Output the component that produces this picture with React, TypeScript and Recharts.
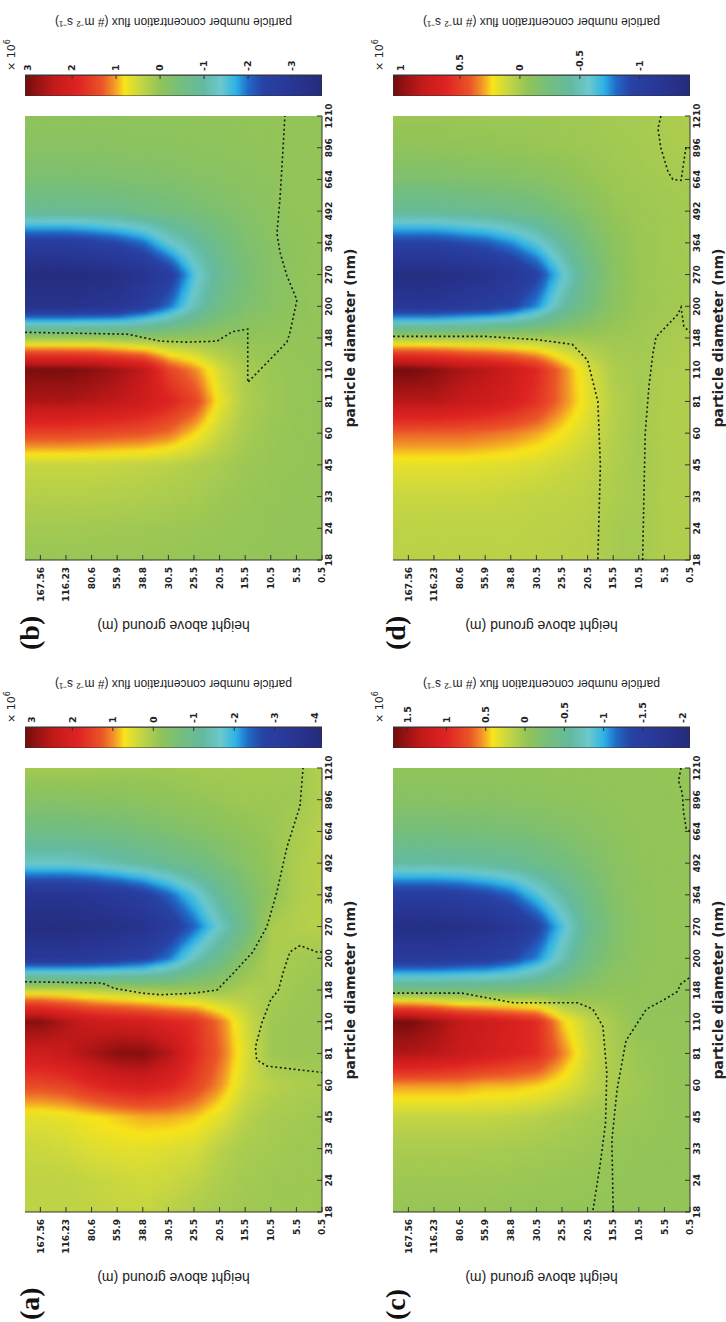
import React from 'react';
import { ComposedChart, Scatter, XAxis, YAxis } from 'recharts';

// axis categories (equally spaced in the figure)
const DIAMETERS = ['18', '24', '33', '45', '60', '81', '110', '148', '200', '270', '364', '492', '664', '896', '1210'];
const HEIGHTS = ['0.5', '5.5', '10.5', '15.5', '20.5', '25.5', '30.5', '38.8', '55.9', '80.6', '116.23', '167.56'];

// flux in 10^6 # m-2 s-1; rows go from 167.56 m down to 0.5 m, columns follow DIAMETERS
const FLUX_A = [
  [0.25, 0.25, 0.35, 0.55, 1.4, 2.2, 3.0, 0.3, -3.3, -4.0, -3.5, -1.6, -0.8, -0.35, 0.0],
  [0.25, 0.25, 0.4, 0.6, 1.5, 2.4, 2.6, 0.3, -3.3, -4.0, -3.5, -1.6, -0.8, -0.35, 0.0],
  [0.25, 0.3, 0.5, 0.7, 1.8, 2.7, 2.3, 0.2, -3.2, -3.9, -3.4, -1.5, -0.75, -0.3, 0.0],
  [0.3, 0.35, 0.55, 0.8, 2.0, 3.0, 2.2, 0.1, -3.0, -3.8, -3.2, -1.35, -0.7, -0.3, -0.05],
  [0.3, 0.4, 0.55, 0.9, 2.1, 3.0, 2.1, 0.0, -2.8, -3.6, -2.9, -1.2, -0.6, -0.25, -0.05],
  [0.2, 0.35, 0.5, 0.9, 1.9, 2.6, 1.9, -0.1, -2.3, -3.1, -2.4, -1.0, -0.5, -0.2, -0.05],
  [0.1, 0.25, 0.45, 0.8, 1.5, 1.8, 1.7, -0.1, -1.5, -2.4, -1.8, -0.8, -0.4, -0.15, 0.0],
  [0.0, 0.1, 0.2, 0.55, 1.0, 1.2, 1.1, -0.1, -0.9, -1.6, -1.1, -0.6, -0.3, -0.1, 0.0],
  [-0.05, 0.0, 0.05, 0.2, 0.4, 0.5, 0.4, 0.1, -0.3, -0.8, -0.6, -0.35, -0.2, -0.05, 0.0],
  [-0.05, -0.05, 0.0, 0.05, 0.2, -0.05, -0.05, 0.05, 0.1, 0.05, -0.2, -0.15, -0.1, -0.05, 0.0],
  [-0.05, -0.05, -0.05, 0.0, 0.1, -0.1, -0.1, -0.05, 0.0, 0.15, 0.1, 0.1, 0.05, -0.05, -0.02],
  [-0.05, -0.05, -0.05, -0.05, 0.05, -0.1, -0.1, -0.1, -0.05, 0.2, 0.2, 0.2, 0.2, 0.15, 0.15],
];
const FLUX_B = [
  [0.05, 0.15, 0.3, 0.45, 1.5, 2.6, 3.0, 0.1, -3.2, -3.6, -2.6, -0.8, -0.35, -0.15, -0.05],
  [0.05, 0.15, 0.3, 0.45, 1.5, 2.6, 3.0, 0.1, -3.2, -3.6, -2.6, -0.8, -0.35, -0.15, -0.05],
  [0.05, 0.14, 0.3, 0.45, 1.45, 2.5, 2.9, 0.1, -3.1, -3.5, -2.5, -0.75, -0.33, -0.14, -0.05],
  [0.05, 0.13, 0.28, 0.42, 1.4, 2.4, 2.7, 0.05, -3.0, -3.4, -2.3, -0.7, -0.3, -0.13, -0.04],
  [0.05, 0.12, 0.26, 0.4, 1.35, 2.2, 2.4, 0, -2.6, -3.1, -2.0, -0.6, -0.28, -0.12, -0.04],
  [0.04, 0.1, 0.22, 0.35, 1.2, 1.9, 1.5, 0, -2.0, -2.6, -1.4, -0.5, -0.25, -0.1, -0.03],
  [0.03, 0.08, 0.18, 0.28, 0.85, 1.5, 1.1, 0, -1.2, -1.5, -1.0, -0.4, -0.2, -0.08, -0.03],
  [0.02, 0.05, 0.1, 0.2, 0.45, 0.7, 0.55, 0, -0.6, -0.8, -0.6, -0.3, -0.15, -0.06, -0.02],
  [0.01, 0.03, 0.05, 0.1, 0.18, 0.25, 0.2, 0, -0.3, -0.4, -0.3, -0.2, -0.1, -0.04, -0.01],
  [0, 0.01, 0.02, 0.05, 0.07, 0.1, 0.08, 0, -0.15, -0.2, -0.15, -0.1, -0.05, -0.02, 0],
  [0, 0, 0, 0.02, 0.03, 0.03, 0.03, 0, -0.05, -0.05, -0.05, 0, 0, 0, 0],
  [0, 0, 0, 0, 0, 0, 0, 0, 0, 0, 0, 0, 0, 0, 0],
];
const FLUX_C = [
  [-0.02, 0.02, 0.08, 0.2, 0.55, 1.4, 1.65, -0.3, -1.6, -1.95, -1.5, -0.6, -0.3, -0.13, -0.05],
  [-0.02, 0.02, 0.08, 0.2, 0.55, 1.35, 1.5, -0.3, -1.6, -1.95, -1.5, -0.6, -0.3, -0.13, -0.05],
  [-0.02, 0.02, 0.08, 0.2, 0.55, 1.25, 1.3, -0.3, -1.55, -1.9, -1.45, -0.58, -0.28, -0.12, -0.05],
  [-0.02, 0.02, 0.07, 0.2, 0.5, 1.15, 1.2, -0.3, -1.5, -1.85, -1.35, -0.55, -0.27, -0.12, -0.05],
  [-0.03, 0.01, 0.06, 0.18, 0.5, 1.05, 1.1, -0.3, -1.35, -1.7, -1.2, -0.5, -0.25, -0.11, -0.05],
  [-0.03, 0, 0.05, 0.15, 0.45, 0.95, 0.95, -0.25, -1.1, -1.4, -0.9, -0.42, -0.22, -0.1, -0.05],
  [-0.03, -0.01, 0.03, 0.1, 0.35, 0.6, 0.45, -0.2, -0.7, -0.9, -0.6, -0.32, -0.18, -0.08, -0.04],
  [-0.04, -0.02, 0.01, 0.06, 0.2, 0.25, 0.2, -0.1, -0.35, -0.45, -0.35, -0.22, -0.13, -0.07, -0.04],
  [-0.04, -0.03, -0.02, 0.02, 0.08, 0.08, 0.05, -0.05, -0.15, -0.2, -0.15, -0.12, -0.08, -0.05, -0.04],
  [-0.04, -0.04, -0.03, 0, 0.02, 0, -0.05, -0.05, -0.07, -0.08, -0.07, -0.06, -0.05, -0.04, -0.04],
  [-0.04, -0.04, -0.04, -0.03, -0.03, -0.03, -0.05, -0.05, -0.04, -0.04, -0.04, -0.04, -0.04, -0.04, -0.03],
  [-0.04, -0.04, -0.04, -0.04, -0.04, -0.04, -0.05, -0.05, -0.04, -0.04, -0.04, -0.04, -0.03, -0.03, -0.03],
];
const FLUX_D = [
  [0.06, 0.07, 0.1, 0.18, 0.4, 0.85, 1.05, 0, -1.15, -1.35, -0.95, -0.38, -0.18, -0.08, -0.04],
  [0.06, 0.07, 0.1, 0.18, 0.4, 0.85, 1.0, 0, -1.15, -1.35, -0.95, -0.38, -0.18, -0.08, -0.04],
  [0.06, 0.07, 0.1, 0.18, 0.4, 0.8, 0.9, 0, -1.1, -1.3, -0.9, -0.36, -0.17, -0.07, -0.04],
  [0.06, 0.07, 0.1, 0.17, 0.38, 0.75, 0.85, 0, -1.05, -1.25, -0.85, -0.34, -0.16, -0.07, -0.03],
  [0.06, 0.07, 0.09, 0.16, 0.35, 0.68, 0.75, 0, -0.95, -1.15, -0.75, -0.31, -0.15, -0.06, -0.03],
  [0.06, 0.06, 0.08, 0.14, 0.3, 0.55, 0.6, 0, -0.75, -0.95, -0.6, -0.27, -0.13, -0.05, -0.03],
  [0.05, 0.06, 0.07, 0.11, 0.22, 0.35, 0.35, -0.02, -0.45, -0.6, -0.4, -0.2, -0.1, -0.04, -0.02],
  [0.05, 0.05, 0.06, 0.08, 0.13, 0.18, 0.15, -0.03, -0.25, -0.3, -0.22, -0.13, -0.06, -0.03, -0.02],
  [0, 0, 0.02, 0.03, 0.04, 0.05, 0.02, -0.03, -0.1, -0.12, -0.1, -0.06, -0.03, -0.02, -0.01],
  [-0.01, -0.01, -0.01, -0.01, -0.01, -0.01, -0.01, -0.02, -0.04, -0.04, -0.04, -0.03, -0.02, -0.01, -0.005],
  [0.03, 0.03, 0.03, 0.03, 0.03, 0.03, 0.02, 0, -0.02, -0.02, -0.02, -0.02, -0.01, 0.01, 0.01],
  [0.03, 0.03, 0.03, 0.03, 0.03, 0.03, 0.03, 0.02, -0.01, -0.01, -0.01, -0.01, -0.01, 0.02, 0.02],
];

// colour limits and colourbar ticks (x 10^6)
const RANGE_A = [-4.17, 3.17];
const RANGE_B = [-3.68, 3.07];
const RANGE_C = [-2.1, 1.68];
const RANGE_D = [-1.42, 1.06];
const CBAR_A = [3, 2, 1, 0, -1, -2, -3, -4];
const CBAR_B = [3, 2, 1, 0, -1, -2, -3];
const CBAR_C = [1.5, 1, 0.5, 0, -0.5, -1, -1.5, -2];
const CBAR_D = [1, 0.5, 0, -0.5, -1];

// zero-flux contours as [diameter index, height index]
const ZERO_A1 = [[7.26, 11.6], [7.22, 8.6], [7.05, 8.1], [6.9, 7.0], [6.85, 6.3], [6.9, 5.0], [7.0, 4.1], [7.5, 3.5], [8.2, 2.7], [9.0, 2.15], [10.1, 1.76], [11.5, 1.37], [12.8, 0.86], [14, 0.74]];
const ZERO_A2 = [[8.2, 0], [8.2, 0.2], [8.4, 0.86], [8.2, 1.25], [7.6, 1.5], [7.0, 1.7], [6.7, 2.0], [5.96, 2.35], [5.2, 2.6], [4.8, 2.55], [4.6, 2.15], [4.48, 0.86], [4.4, 0]];
const ZERO_B1 = [[7.18, 11.6], [7.12, 7.6], [6.9, 6.3], [6.87, 5.3], [6.9, 4.1], [7.2, 3.5], [7.28, 2.9], [5.6, 2.9], [6.87, 1.37], [7.18, 1.25], [8.2, 0.98], [8.96, 1.37], [9.7, 1.64], [10.3, 1.76], [11.4, 1.64], [13.0, 1.52], [14, 1.45]];
const ZERO_C1 = [[6.9, 11.6], [6.9, 8.9], [6.6, 6.9], [6.6, 4.4], [6.4, 3.8], [5.85, 3.4], [4.4, 3.25], [2.8, 3.3], [1.55, 3.5], [0, 3.8]];
const ZERO_C2 = [[0, 3.0], [2.27, 3.05], [3.85, 2.85], [5.4, 2.5], [6.4, 1.7], [6.7, 1.0], [6.95, 0.5], [7.2, 0.35], [7.4, 0]];
const ZERO_C3 = [[14, 0.35], [13.6, 0.45], [13.2, 0.3], [12.6, 0.25], [12.1, 0.15], [12.0, 0]];
const ZERO_D1 = [[7.05, 11.6], [7.05, 8], [6.95, 6], [6.8, 4.6], [6.3, 4.0], [5, 3.6], [3, 3.5], [1.5, 3.55], [0, 3.6]];
const ZERO_D2 = [[0, 1.85], [2, 1.8], [4, 1.75], [5.5, 1.6], [6.5, 1.45], [7.03, 1.33], [7.75, 0.47], [7.97, 0.35], [7.37, 0.24], [7.18, 0]];
const ZERO_D3 = [[14, 1.14], [13.6, 1.25], [13, 1.14], [12.25, 0.86], [12, 0.67], [11.97, 0.35], [12.4, 0.27], [13, 0.16], [13, 0]];

const CBAR_TITLE = 'particle number concentration flux (# m\u207B\u00B2 s\u207B\u00B9)';

// jet-like colour ramp sampled from the printed colourbar (0 = min, 1 = max)
const CMAP: [number, number[]][] = [
  [0.0, [36, 44, 122]],
  [0.1, [40, 54, 148]],
  [0.2, [40, 66, 165]],
  [0.25, [32, 108, 200]],
  [0.29, [45, 178, 230]],
  [0.34, [108, 200, 205]],
  [0.4, [100, 186, 160]],
  [0.48, [118, 190, 122]],
  [0.545, [146, 196, 88]],
  [0.59, [180, 207, 76]],
  [0.63, [215, 220, 55]],
  [0.665, [248, 228, 25]],
  [0.7, [242, 150, 40]],
  [0.74, [235, 85, 40]],
  [0.82, [222, 36, 34]],
  [0.9, [196, 26, 26]],
  [0.96, [150, 18, 18]],
  [1.0, [112, 12, 12]],
];

const PLOT_W = 444;
const PLOT_H = 297;
const CBAR_W = 21;
const N_D = DIAMETERS.length;
const N_H = HEIGHTS.length;
const D_MAX = N_D - 1;
const H_MAX = 11.6;
const D_TICKS = DIAMETERS.map((_, i) => i);
const H_TICKS = HEIGHTS.map((_, i) => i);
const FRAME = '#333';
const TICK_FONT = { fontSize: 9, fontWeight: 'bold', fill: '#222', fontFamily: '"DejaVu Sans", sans-serif' };

const rgb = (c: number[]) => `rgb(${c[0]},${c[1]},${c[2]})`;

function fluxColor(v: number, range: number[]) {
  const f = Math.max(0, Math.min(1, (v - range[0]) / (range[1] - range[0])));
  for (let i = 1; i < CMAP.length; i++) {
    if (f <= CMAP[i][0]) {
      const [f0, c0] = CMAP[i - 1];
      const [f1, c1] = CMAP[i];
      const t = (f - f0) / (f1 - f0);
      return rgb(c0.map((x, k) => Math.round(x + (c1[k] - x) * t)));
    }
  }
  return rgb(CMAP[CMAP.length - 1][1]);
}

// value between grid nodes, linear in both directions (what contourf shows)
function fieldAt(rows: number[][], xi: number, yi: number) {
  const x = Math.max(0, Math.min(D_MAX, xi));
  const y = Math.max(0, Math.min(N_H - 1, yi));
  const i0 = Math.min(N_D - 2, Math.floor(x));
  const j0 = Math.min(N_H - 2, Math.floor(y));
  const tx = x - i0;
  const ty = y - j0;
  const g = (i: number, j: number) => rows[N_H - 1 - j][i];
  return (
    g(i0, j0) * (1 - tx) * (1 - ty) +
    g(i0 + 1, j0) * tx * (1 - ty) +
    g(i0, j0 + 1) * (1 - tx) * ty +
    g(i0 + 1, j0 + 1) * tx * ty
  );
}

const toCells = (rows: number[][]) =>
  rows.flatMap((row, r) => row.map((v, c) => ({ d: c, h: N_H - 1 - r, v })));

const toPoints = (line: number[][]) => line.map(([d, h]) => ({ d, h }));

function Panel({ tag, x, y, rows, range, cbarTicks, zeroLines, titleOffset }: any) {
  const cells = toCells(rows);
  const kx = PLOT_W / D_MAX;
  const ky = PLOT_H / H_MAX;

  const cellShape = (p: any) => {
    const { cx, cy, payload } = p;
    const { d, h } = payload;
    const xa = Math.max(0, d - 0.5);
    const xb = Math.min(D_MAX, d + 0.5);
    const ya = Math.max(0, h - 0.5);
    const yb = h === N_H - 1 ? H_MAX : h + 0.5;
    const nx = Math.max(1, Math.round((xb - xa) * 9));
    const ny = Math.max(1, Math.round((yb - ya) * 8));
    const parts = [];
    for (let a = 0; a < nx; a++) {
      for (let b = 0; b < ny; b++) {
        const x0 = xa + ((xb - xa) * a) / nx;
        const x1 = xa + ((xb - xa) * (a + 1)) / nx;
        const y0 = ya + ((yb - ya) * b) / ny;
        const y1 = ya + ((yb - ya) * (b + 1)) / ny;
        const v = fieldAt(rows, (x0 + x1) / 2, (y0 + y1) / 2);
        const px0 = cx + (x0 - d) * kx;
        const px1 = cx + (x1 - d) * kx;
        const pyTop = cy - (y1 - h) * ky;
        const pyBot = cy - (y0 - h) * ky;
        parts.push(
          <rect key={a * 50 + b} x={px0} y={pyTop} width={px1 - px0 + 0.7} height={pyBot - pyTop + 0.7} fill={fluxColor(v, range)} />
        );
      }
    }
    return <g>{parts}</g>;
  };

  const cbarShape = (p: any) => (
    <rect
      x={p.cx - CBAR_W / 2}
      y={p.cy - PLOT_H / 2}
      width={CBAR_W}
      height={PLOT_H}
      fill="url(#cbarGrad)"
      stroke={FRAME}
      strokeWidth={1}
    />
  );

  const plotRight = x + 110 + PLOT_W;
  const mid = (range[0] + range[1]) / 2;

  return (
    <>
      <div style={{ position: 'absolute', left: x, top: y }}>
        <ComposedChart width={576} height={362} margin={{ top: 25, right: 22, bottom: 0, left: 44 }}>
          <XAxis
            dataKey="d"
            type="number"
            domain={[0, D_MAX]}
            ticks={D_TICKS}
            interval={0}
            allowDataOverflow
            tickFormatter={(v: number) => DIAMETERS[v]}
            height={40}
            tickSize={-5}
            tickMargin={9}
            tick={TICK_FONT}
            stroke={FRAME}
            label={{
              value: 'particle diameter (nm)',
              position: 'insideBottom',
              offset: 7,
              style: { fontSize: 14, fontWeight: 'bold', fill: '#222', fontFamily: '"DejaVu Sans", sans-serif' },
            }}
          />
          <XAxis xAxisId="top" orientation="top" type="number" domain={[0, D_MAX]} ticks={D_TICKS} interval={0} allowDataOverflow height={0} tickSize={-5} tick={false} stroke={FRAME} />
          <YAxis
            dataKey="h"
            type="number"
            domain={[0, H_MAX]}
            ticks={H_TICKS}
            interval={0}
            allowDataOverflow
            tickFormatter={(v: number) => HEIGHTS[v]}
            width={66}
            tickSize={-5}
            tickMargin={12}
            tick={TICK_FONT}
            stroke={FRAME}
            label={{
              value: 'height above ground (m)',
              angle: -90,
              position: 'insideLeft',
              offset: 0,
              style: { textAnchor: 'middle', fontSize: 14, fill: '#222', fontFamily: '"Liberation Sans", Arial, sans-serif' },
            }}
          />
          <YAxis yAxisId="right" orientation="right" type="number" domain={[0, H_MAX]} ticks={H_TICKS} interval={0} allowDataOverflow width={0} tickSize={-5} tick={false} stroke={FRAME} />
          <Scatter data={cells} shape={cellShape} isAnimationActive={false} className="heatmap" zIndex={-1} />
          {zeroLines.map((ln: number[][], i: number) => (
            <Scatter
              key={i}
              data={toPoints(ln)}
              shape={() => <g />}
              line={{ stroke: '#1a1a1a', strokeWidth: 1.6, strokeDasharray: '2 2.6', fill: 'none' }}
              lineType="joint"
              isAnimationActive={false}
            />
          ))}
        </ComposedChart>
      </div>

      <div style={{ position: 'absolute', left: plotRight + 20, top: y }}>
        <ComposedChart width={100} height={362} margin={{ top: 25, right: 0, bottom: 40, left: 0 }}>
          <XAxis dataKey="x" type="number" domain={[0, 1]} hide allowDataOverflow />
          <YAxis
            dataKey="y"
            type="number"
            orientation="right"
            domain={range}
            ticks={cbarTicks}
            interval={0}
            allowDataOverflow
            width={79}
            tickSize={-4}
            tickMargin={8}
            stroke={FRAME}
            tick={{ ...TICK_FONT, fontSize: 9.5 }}
            tickFormatter={(v: number) => String(v)}
            label={{
              value: CBAR_TITLE,
              angle: -90,
              position: 'insideRight',
              offset: titleOffset,
              style: { textAnchor: 'middle', fontSize: 12, fill: '#222', fontFamily: '"Liberation Sans", Arial, sans-serif' },
            }}
          />
          <YAxis yAxisId="l" orientation="left" type="number" domain={range} ticks={cbarTicks} interval={0} allowDataOverflow width={0} tickSize={-4} tick={false} stroke={FRAME} />
          <Scatter data={[{ x: 0.5, y: mid }]} shape={cbarShape} isAnimationActive={false} zIndex={-1} />
        </ComposedChart>
      </div>

      <div style={{ position: 'absolute', left: plotRight + 45, top: y + 5, fontSize: 11, lineHeight: '14px', color: '#222', fontFamily: '"DejaVu Sans", sans-serif', whiteSpace: 'nowrap' }}>
        × 10<sup style={{ fontSize: 8, verticalAlign: 'super', lineHeight: 0 }}>6</sup>
      </div>
      <div style={{ position: 'absolute', left: x + 20 - (x === 0 ? 18 : 0), top: y + 16 - (y > 0 ? 2 : 0), fontSize: 28, lineHeight: '28px', fontWeight: 'bold', color: '#111', fontFamily: '"Liberation Serif", "Times New Roman", serif' }}>
        ({tag})
      </div>
    </>
  );
}

export default function App() {
  return (
    <div style={{ position: 'absolute', left: 0, top: 0, width: 726, height: 1322, overflow: 'hidden', background: '#fff' }}>
      <style>{'.heatmap { filter: url(#soften); }'}</style>
      <svg width={0} height={0} style={{ position: 'absolute' }}>
        <defs>
          <filter id="soften" x="0" y="0" width="1" height="1" colorInterpolationFilters="sRGB">
            <feGaussianBlur stdDeviation="1.6" edgeMode="duplicate" />
            <feComponentTransfer>
              <feFuncA type="table" tableValues="1 1" />
            </feComponentTransfer>
          </filter>
          <linearGradient id="cbarGrad" x1="0" y1="0" x2="0" y2="1">
            {CMAP.slice().reverse().map(([f, c]) => (
              <stop key={f} offset={1 - f} stopColor={rgb(c)} />
            ))}
          </linearGradient>
        </defs>
      </svg>
      <div style={{ position: 'absolute', left: 0, top: 0, width: 1322, height: 726, transformOrigin: '0 0', transform: 'translateY(1322px) rotate(-90deg)' }}>
        <Panel tag="a" x={0} y={0} rows={FLUX_A} range={RANGE_A} cbarTicks={CBAR_A} zeroLines={[ZERO_A1, ZERO_A2]} titleOffset={36} />
        <Panel tag="b" x={652} y={0} rows={FLUX_B} range={RANGE_B} cbarTicks={CBAR_B} zeroLines={[ZERO_B1]} titleOffset={26} />
        <Panel tag="c" x={0} y={368} rows={FLUX_C} range={RANGE_C} cbarTicks={CBAR_C} zeroLines={[ZERO_C1, ZERO_C2, ZERO_C3]} titleOffset={36} />
        <Panel tag="d" x={652} y={368} rows={FLUX_D} range={RANGE_D} cbarTicks={CBAR_D} zeroLines={[ZERO_D1, ZERO_D2, ZERO_D3]} titleOffset={26} />
      </div>
    </div>
  );
}
